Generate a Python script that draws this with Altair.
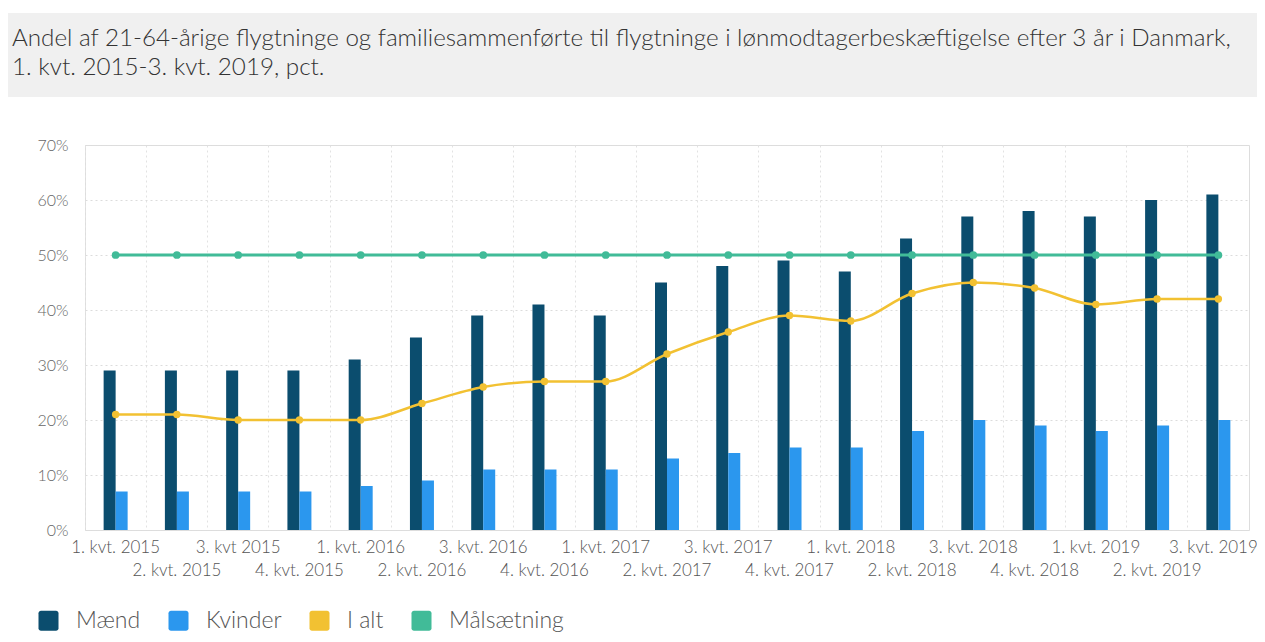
import altair as alt
import pandas as pd

quarters = ["1. kvt. 2015", "2. kvt. 2015", "3. kvt 2015", "4. kvt. 2015",
            "1. kvt. 2016", "2. kvt. 2016", "3. kvt. 2016", "4. kvt. 2016",
            "1. kvt. 2017", "2. kvt. 2017", "3. kvt. 2017", "4. kvt. 2017",
            "1. kvt. 2018", "2. kvt. 2018", "3. kvt. 2018", "4. kvt. 2018",
            "1. kvt. 2019", "2. kvt. 2019", "3. kvt. 2019"]
maend = [29, 29, 29, 29, 31, 35, 39, 41, 39, 45, 48, 49, 47, 53, 57, 58, 57, 60, 61]
kvinder = [7, 7, 7, 7, 8, 9, 11, 11, 11, 13, 14, 15, 15, 18, 20, 19, 18, 19, 20]
i_alt = [21, 21, 20, 20, 20, 23, 26, 27, 27, 32, 36, 39, 38, 43, 45, 44, 41, 42, 42]
maal = [50, 50, 50, 50, 50, 50, 50, 50, 50, 50, 50, 50, 50, 50, 50, 50, 50, 50, 50]

series_names = ["Mænd", "Kvinder", "I alt", "Målsætning"]
series_colors = ["#0b4d6e", "#2b97ee", "#f2c132", "#41bb98"]
y_ticks = [0, 10, 20, 30, 40, 50, 60, 70]

title_line1 = "Andel af 21-64-årige flygtninge og familiesammenførte til flygtninge i lønmodtagerbeskæftigelse efter 3 år i Danmark,"
title_line2 = "1. kvt. 2015-3. kvt. 2019, pct."

rows = []
for vals, name in zip([maend, kvinder, i_alt, maal], series_names):
    for i, (q, v) in enumerate(zip(quarters, vals)):
        rows.append({"kvartal": q, "serie": name, "værdi": v, "idx": i})
df = pd.DataFrame(rows)
lab_df = pd.DataFrame({"kvartal": quarters, "idx": list(range(len(quarters)))})
last_idx = len(quarters) - 1

W, H = 1164, 385
FONT = "Lato"
ROUNDED_SQUARE = ("M-0.75,-1 H0.75 A0.25,0.25 0 0 1 1,-0.75 V0.75 A0.25,0.25 0 0 1 0.75,1 "
                  "H-0.75 A0.25,0.25 0 0 1 -1,0.75 V-0.75 A0.25,0.25 0 0 1 -0.75,-1 Z")

x_enc = alt.X("kvartal:N",
              scale=alt.Scale(domain=quarters, paddingInner=0, paddingOuter=0),
              axis=alt.Axis(title=None, labels=False, ticks=False, domain=False,
                            grid=True, bandPosition=0, gridColor="#e2e2e2",
                            gridDash=[2, 3], gridWidth=1))
y_enc = alt.Y("værdi:Q",
              scale=alt.Scale(domain=[0, 70], nice=False),
              axis=alt.Axis(title=None, values=y_ticks, labelExpr="datum.value + '%'",
                            ticks=False, domain=False, grid=True, gridColor="#dcdcdc",
                            gridDash=[2, 3], labelPadding=17, labelFontSize=16,
                            labelColor="#666", labelFont=FONT, labelFontWeight=300))
color_scale = alt.Scale(domain=series_names, range=series_colors)

base = alt.Chart(df)
one = pd.DataFrame({"a": [0]})

box = alt.Chart(one).mark_rect(color="#f0f0f0").encode(
    x=alt.value(-77), x2=alt.value(1172), y=alt.value(-132), y2=alt.value(-48))
t1 = alt.Chart(one).mark_text(text=title_line1, align="left", baseline="alphabetic",
                              fontSize=24.2, font=FONT, fontWeight=300, color="#333").encode(
    x=alt.value(-73), y=alt.value(-99))
t2 = alt.Chart(one).mark_text(text=title_line2, align="left", baseline="alphabetic",
                              fontSize=24.2, font=FONT, fontWeight=300, color="#333").encode(
    x=alt.value(-73), y=alt.value(-70))

bars_m = base.transform_filter(alt.datum.serie == "Mænd").mark_bar(width=12, xOffset=-6).encode(
    x=x_enc, y=y_enc,
    color=alt.Color("serie:N", scale=color_scale,
                    legend=alt.Legend(title=None, orient="none", legendX=-48, legendY=464,
                                      direction="horizontal", symbolType=ROUNDED_SQUARE,
                                      symbolSize=400, symbolStrokeWidth=0,
                                      labelFontSize=23, labelFont=FONT, labelFontWeight=300,
                                      labelColor="#555", labelOffset=16, columnPadding=26)))
bars_k = base.transform_filter(alt.datum.serie == "Kvinder").mark_bar(width=12, xOffset=6).encode(
    x=x_enc, y=y_enc, color=alt.Color("serie:N", scale=color_scale, legend=None))

line_i = base.transform_filter(alt.datum.serie == "I alt").mark_line(
    interpolate="monotone", strokeWidth=2.5,
    point=alt.OverlayMarkDef(filled=True, size=55, color="#f2c132")).encode(
    x=x_enc, y=y_enc, color=alt.Color("serie:N", scale=color_scale, legend=None))
line_m = base.transform_filter(alt.datum.serie == "Målsætning").mark_line(
    strokeWidth=3, point=alt.OverlayMarkDef(filled=True, size=60, color="#41bb98")).encode(
    x=x_enc, y=y_enc, color=alt.Color("serie:N", scale=color_scale, legend=None))

lab_style = dict(fontSize=17, font=FONT, fontWeight=300, color="#555", baseline="middle")
lab_top = alt.Chart(lab_df).transform_filter(
    f"datum.idx % 2 == 0 && datum.idx < {last_idx}").mark_text(**lab_style).encode(
    x=x_enc, y=alt.value(H + 18), text="kvartal:N")
lab_last = alt.Chart(lab_df).transform_filter(
    f"datum.idx == {last_idx}").mark_text(dx=-5, **lab_style).encode(
    x=x_enc, y=alt.value(H + 18), text="kvartal:N")
lab_bot = alt.Chart(lab_df).transform_filter("datum.idx % 2 == 1").mark_text(**lab_style).encode(
    x=x_enc, y=alt.value(H + 41), text="kvartal:N")

chart = alt.layer(box, t1, t2, bars_m, bars_k, line_i, line_m,
                  lab_top, lab_last, lab_bot).resolve_legend(
    color="independent"
).properties(
    width=W, height=H,
    autosize=alt.AutoSizeParams(type="none"),
    padding={"left": 77, "top": 137, "right": 8, "bottom": 104},
).configure_view(strokeWidth=0).configure(font=FONT, background="white")

chart.save("out.html", embed_options={"renderer": "svg", "actions": False})
